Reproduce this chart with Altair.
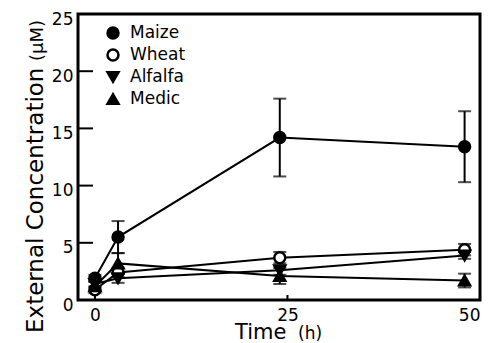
import altair as alt
import pandas as pd

times = [0, 3, 24, 48]
names = ["Maize", "Wheat", "Alfalfa", "Medic"]
maize = [1.9, 5.5, 14.2, 13.4]
maize_err = [0.3, 1.4, 3.4, 3.1]
wheat = [0.9, 2.4, 3.7, 4.4]
wheat_err = [0.3, 0.4, 0.5, 0.5]
alfalfa = [1.4, 1.9, 2.6, 3.9]
alfalfa_err = [0.3, 0.4, 0.4, 0.3]
medic = [1.2, 3.2, 2.1, 1.7]
medic_err = [0.4, 0.9, 0.7, 0.6]
y_ticks = [0, 5, 10, 15, 20, 25]
x_ticks = [0, 25, 50]
x_title = ["Time", "(h)"]
y_title = ["External Concentration", "(μM)"]

rows = []
for name, vals, errs in zip(names, [maize, wheat, alfalfa, medic],
                            [maize_err, wheat_err, alfalfa_err, medic_err]):
    for t, v, e in zip(times, vals, errs):
        rows.append({"series": name, "t": t, "v": v, "lo": v - e, "hi": v + e})
df = pd.DataFrame(rows)

FONT = "DejaVu Sans"
W, H = 402, 286
xs = alt.Scale(domain=[-2.2, 50], nice=False, zero=False)
ys = alt.Scale(domain=[0, 25], nice=False)

xax = alt.Axis(values=x_ticks, ticks=False, domain=False, grid=False,
               labelFontSize=17, labelPadding=7, labelFont=FONT, labelColor="black",
               title=None)
yax = alt.Axis(values=y_ticks, ticks=False, domain=False, grid=False,
               labelFontSize=17, labelPadding=5, labelFont=FONT, labelColor="black",
               labelOffset=5, labelBound=False, title=None)

base = alt.Chart(df)

lines = base.mark_line(color="black", strokeWidth=2).encode(
    x=alt.X("t:Q", scale=xs, axis=xax),
    y=alt.Y("v:Q", scale=ys, axis=yax),
    detail="series:N",
)
bars = base.mark_rule(color="black", strokeWidth=2).encode(
    x=alt.X("t:Q", scale=xs), y=alt.Y("lo:Q", scale=ys), y2="hi:Q"
)
cap_lo = base.mark_tick(color="black", thickness=2, size=13, orient="horizontal").encode(
    x=alt.X("t:Q", scale=xs), y=alt.Y("lo:Q", scale=ys)
)
cap_hi = base.mark_tick(color="black", thickness=2, size=13, orient="horizontal").encode(
    x=alt.X("t:Q", scale=xs), y=alt.Y("hi:Q", scale=ys)
)
shape_scale = alt.Scale(domain=names, range=["circle", "circle", "triangle-down", "triangle-up"])
fill_scale = alt.Scale(domain=names, range=["black", "white", "black", "black"])
points = base.mark_point(size=120, strokeWidth=2.5, opacity=1, stroke="black").encode(
    x=alt.X("t:Q", scale=xs), y=alt.Y("v:Q", scale=ys),
    shape=alt.Shape("series:N", scale=shape_scale, legend=None),
    fill=alt.Fill("series:N", scale=fill_scale, legend=None),
)

ytick_df = pd.DataFrame({"v": y_ticks[1:-1]})
yticks = alt.Chart(ytick_df).mark_rule(color="black", strokeWidth=2).encode(
    y=alt.Y("v:Q", scale=ys), x=alt.value(0), x2=alt.value(15)
)
xtick_df = pd.DataFrame({"t": x_ticks})
xticks = alt.Chart(xtick_df).mark_rule(color="black", strokeWidth=2).encode(
    x=alt.X("t:Q", scale=xs), y=alt.value(H), y2=alt.value(H - 5)
)

# plot frame
frame = alt.Chart(pd.DataFrame({"f": [0]})).mark_rect(
    fill=None, stroke="black", strokeWidth=3
).encode(x=alt.value(0), x2=alt.value(W), y=alt.value(0), y2=alt.value(H))

# axis titles (two sizes each, as in the reference)
xt_main = alt.Chart(pd.DataFrame({"s": [x_title[0]]})).mark_text(
    font=FONT, fontSize=21, align="left", baseline="alphabetic", color="black"
).encode(text="s:N", x=alt.value(157), y=alt.value(325))
xt_unit = alt.Chart(pd.DataFrame({"s": [x_title[1]]})).mark_text(
    font=FONT, fontSize=17, align="left", baseline="alphabetic", color="black"
).encode(text="s:N", x=alt.value(220), y=alt.value(325))
yt_main = alt.Chart(pd.DataFrame({"s": [y_title[0]]})).mark_text(
    font=FONT, fontSize=23, align="left", baseline="alphabetic", color="black", angle=270
).encode(text="s:N", x=alt.value(-35), y=alt.value(319))
yt_unit = alt.Chart(pd.DataFrame({"s": [y_title[1]]})).mark_text(
    font=FONT, fontSize=18, align="left", baseline="alphabetic", color="black", angle=270
).encode(text="s:N", x=alt.value(-35), y=alt.value(47))

# manual legend
leg_df = pd.DataFrame({"series": names})
leg_y = alt.Y("series:N", scale=alt.Scale(domain=names, type="point", range=[19, 85], padding=0),
              axis=None)
leg_pts = alt.Chart(leg_df).mark_point(size=120, strokeWidth=2.5, opacity=1, stroke="black").encode(
    x=alt.value(35), y=leg_y,
    shape=alt.Shape("series:N", scale=shape_scale, legend=None),
    fill=alt.Fill("series:N", scale=fill_scale, legend=None),
)
leg_txt = alt.Chart(leg_df).mark_text(
    font=FONT, fontSize=17, align="left", baseline="middle", color="black"
).encode(x=alt.value(52), y=leg_y, text="series:N")

data_layer = alt.layer(lines, bars, cap_lo, cap_hi, yticks, xticks, points, frame)
legend_layer = alt.layer(leg_pts, leg_txt)
title_layer = alt.layer(xt_main, xt_unit, yt_main, yt_unit)

chart = alt.layer(data_layer, legend_layer, title_layer).resolve_scale(
    y="independent"
).properties(
    width=W, height=H,
    background="white",
    autosize=alt.AutoSizeParams(type="none"),
    padding={"left": 70, "top": 6, "right": 4, "bottom": 43},
).configure_view(stroke=None)

chart.save("out.html", embed_options={"renderer": "svg", "actions": False})
